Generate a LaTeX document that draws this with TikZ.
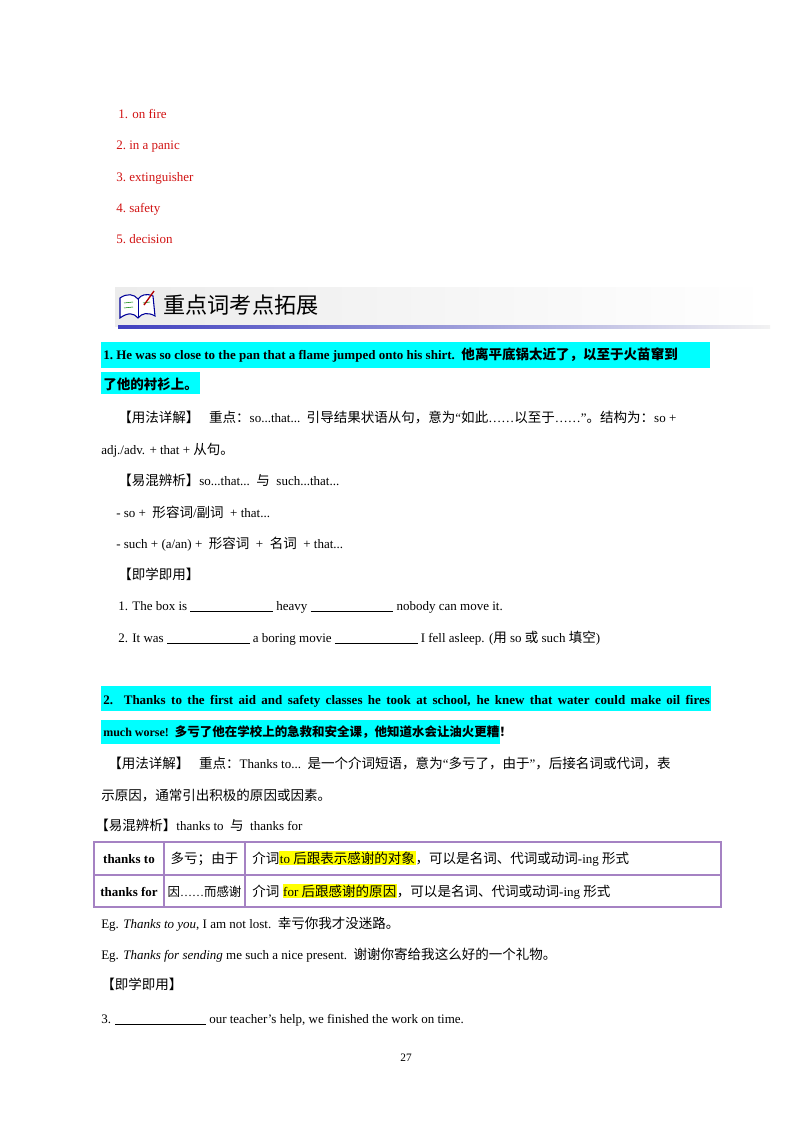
\documentclass[tikz,border=0pt]{standalone}
\usepackage{fontspec}
\setmainfont{Liberation Serif}
\newfontfamily\cjkfont{Noto Sans CJK SC}[Scale=1.04]
\XeTeXinterchartokenstate=1
\newXeTeXintercharclass\CJKc
\makeatletter
\count@="3000
\loop\ifnum\count@<"A000 \XeTeXcharclass\count@=\CJKc \advance\count@ by 1 \repeat
\count@="FF00
\loop\ifnum\count@<"FFF0 \XeTeXcharclass\count@=\CJKc \advance\count@ by 1 \repeat
\makeatother
\XeTeXinterchartoks 0 \CJKc = {\cjkfont}
\XeTeXinterchartoks 4095 \CJKc = {\cjkfont}
\XeTeXinterchartoks \CJKc 0 = {\rmfamily}
\XeTeXinterchartoks \CJKc 4095 = {\rmfamily}
\definecolor{cy}{RGB}{0,255,255}
\definecolor{rd}{RGB}{210,20,20}
\definecolor{pu}{RGB}{165,130,195}
\definecolor{hy}{RGB}{255,255,0}
\newcommand{\bl}[1]{\rule[-1.5pt]{#1}{0.4pt}}
\newcommand{\hl}[1]{{\setlength{\fboxsep}{0.5pt}\colorbox{hy}{#1}}}
\begin{document}
\begin{tikzpicture}[x=0.75pt,y=-0.75pt,
  every node/.style={inner sep=0pt,anchor=base west,font=\fontsize{9.75}{12}\selectfont},
  red/.style={text=rd},
  bf/.style={font=\fontsize{9.75}{12}\selectfont\bfseries}]
\useasboundingbox (0,0) rectangle (800,1132);
\fill[white] (0,0) rectangle (800,1132);
% list
\node[red] (l1) at (118,118) {1. on fire};
\node[red] (l2) at (116,149) {2.\ in a panic};
\node[red] (l3) at (116,181) {3.\ extinguisher};
\node[red] (l4) at (116,212) {4.\ safety};
\node[red] (l5) at (116,243) {5.\ decision};
% banner
\shade[left color=gray!15,right color=white] (115,287) rectangle (770,326);
\shade[left color=blue!50!gray,right color=gray!10] (118,325) rectangle (770,328);
\draw[blue!60!black,fill=white,line width=0.8pt] (120,318) .. controls (128,312) and (134,313) .. (138,318) .. controls (142,313) and (148,312) .. (155,316) -- (153,296) .. controls (146,293) and (141,295) .. (138,299) .. controls (134,294) and (127,293) .. (120,298) -- cycle;
\draw[blue!60!black] (138,299) -- (138,318);
\draw[green!50!black] (124,303)--(133,302) (124,308)--(133,307) (143,303)--(150,302);
\draw[red!70!black,line width=1pt] (144,305) -- (154,291);
\node[font=\fontsize{16}{18}\selectfont] (h) at (163,313) {重点词考点拓展};
% item 1
\fill[cy] (101,342) rectangle (710,368);
\fill[cy] (101,372) rectangle (200,394);
\node[bf] (i1) at (103,359) {1.\ He was so close to the pan that a flame jumped onto his shirt.\ \ 他离平底锅太近了，以至于火苗窜到};
\node[bf] (i1b) at (103,389) {了他的衬衫上。};
\node (u1) at (118,422) {【用法详解】\ \ \ 重点：so...that...\ \ 引导结果状语从句，意为“如此……以至于……”。结构为：so +};
\node (u1b) at (101,454) {adj./adv. + that + 从句。};
\node (y1) at (118,485) {【易混辨析】so...that...\ \ 与\ \ such...that...};
\node (d1) at (116,517) {- so + \ 形容词/副词\ \ + that...};
\node (d2) at (116,548) {- such + (a/an) + \ 形容词\ \ + \ 名词\ \ + that...};
\node (j1) at (118,579) {【即学即用】};
\node (q1) at (118,610) {1. The box is \bl{62pt} heavy \bl{62pt} nobody can move it.};
\node (q2) at (118,642) {2. It was \bl{62pt} a boring movie \bl{62pt} I fell asleep. (用 so 或 such 填空)};
% item 2
\fill[cy] (101,686) rectangle (711,711);
\fill[cy] (101,720) rectangle (500,744);
\node[bf] (i2) at (103,704) {\makebox[455pt][s]{2. Thanks to the first aid and safety classes he took at school, he knew that water could make oil fires}};
\node[bf,font=\fontsize{9}{11}\selectfont\bfseries] (i2b) at (103,736) {much worse!\ \ 多亏了他在学校上的急救和安全课，他知道水会让油火更糟！};
\node (u2) at (108,768) {【用法详解】\ \ \ 重点：Thanks to...\ \ 是一个介词短语，意为“多亏了，由于”，后接名词或代词，表};
\node (u2b) at (101,800) {示原因，通常引出积极的原因或因素。};
\node (y2) at (95,830) {【易混辨析】thanks to\ \ 与\ \ thanks for};
% table
\draw[pu,line width=0.8pt] (94,842) rectangle (721,907);
\draw[pu,line width=0.8pt] (94,875) -- (721,875) (164,842) -- (164,907) (245,842) -- (245,907);
\node[bf,anchor=base] (t11) at (129,863) {thanks to};
\node[anchor=base] (t12) at (204.5,863) {多亏；由于};
\node (t13) at (252,863) {介词\hl{to 后跟表示感谢的对象}，可以是名词、代词或动词-ing 形式};
\node[bf,anchor=base] (t21) at (129,896) {thanks for};
\node[anchor=base] (t22) at (204.5,896) {\fontsize{9}{11}\selectfont 因……而感谢};
\node (t23) at (252,896) {介词 \hl{for 后跟感谢的原因}，可以是名词、代词或动词-ing 形式};
% eg
\node (e1) at (101,928) {Eg. \textit{Thanks to you}, I am not lost.\ \ 幸亏你我才没迷路。};
\node (e2) at (101,959) {Eg. \textit{Thanks for sending} me such a nice present.\ \ 谢谢你寄给我这么好的一个礼物。};
\node (j2) at (101,989) {【即学即用】};
\node (q3) at (101,1023) {3. \bl{68pt} our teacher's help, we finished the work on time.};
\node[anchor=base] (pg) at (406,1061) {\fontsize{8.5}{10}\selectfont 27};
\end{tikzpicture}
\end{document}
